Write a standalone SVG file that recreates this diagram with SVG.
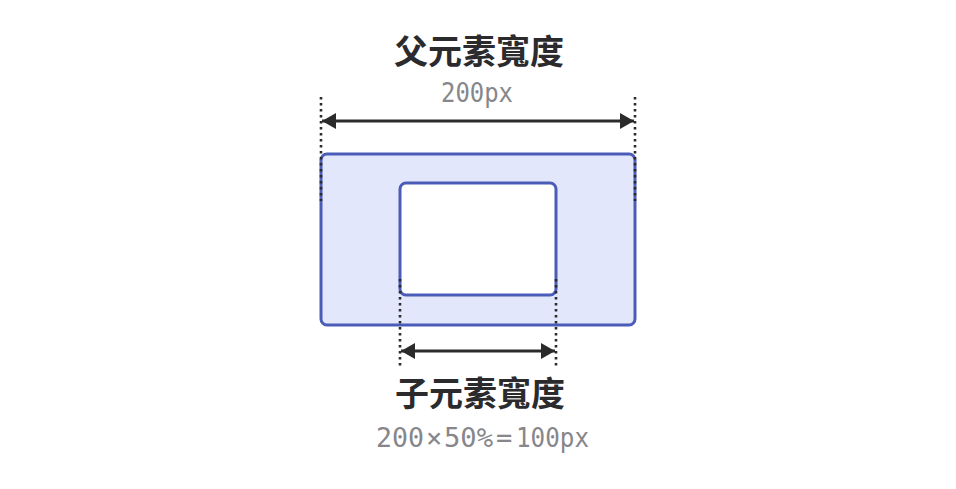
<svg xmlns="http://www.w3.org/2000/svg" width="956" height="489" viewBox="0 0 956 489">
<style>
.title{font-family:"Noto Sans CJK TC","Noto Sans CJK SC",sans-serif;font-weight:700;font-size:34px;fill:#2b2b2e;text-anchor:middle}
.mono{font-family:"DejaVu Sans Mono","Liberation Mono",monospace;font-size:27px;fill:#86868b}
.box{stroke:#4b5cb8;stroke-width:3}
.dim{stroke:#2b2b2b;stroke-width:3;fill:none}
.dot{stroke:#2b2b2b;stroke-width:2.6;stroke-dasharray:2.6 3.4;fill:none}
</style>
<defs>
<marker id="ah" viewBox="0 0 14 16" refX="14" refY="8" markerWidth="14" markerHeight="16" markerUnits="userSpaceOnUse" orient="auto-start-reverse">
<path d="M0,0 L14,8 L0,16 Z" fill="#2b2b2b"/>
</marker>
</defs>
<rect width="956" height="489" fill="#ffffff"/>
<g id="parent">
<rect class="box" x="321" y="154" width="314" height="171" rx="6" fill="#e3e7fc"/>
</g>
<g id="child">
<rect class="box" x="400" y="183" width="156" height="112" rx="6" fill="#ffffff"/>
</g>
<g id="connectors">
<line class="dot" x1="321" y1="97" x2="321" y2="201"/>
<line class="dot" x1="635" y1="97" x2="635" y2="201"/>
<line class="dot" x1="400" y1="279" x2="400" y2="369"/>
<line class="dot" x1="556" y1="279" x2="556" y2="369"/>
<line class="dim" x1="322" y1="121" x2="634" y2="121" marker-start="url(#ah)" marker-end="url(#ah)"/>
<line class="dim" x1="401" y1="351" x2="555" y2="351" marker-start="url(#ah)" marker-end="url(#ah)"/>
</g>
<g id="labels">
<text class="title" x="479" y="64">父元素寬度</text>
<text class="mono" x="441" y="102" textLength="72" lengthAdjust="spacingAndGlyphs">200px</text>
<text class="title" x="480" y="406">子元素寬度</text>
<text class="mono" y="447"><tspan x="376" textLength="48" lengthAdjust="spacingAndGlyphs">200</tspan><tspan x="426">×</tspan><tspan x="444" textLength="49" lengthAdjust="spacingAndGlyphs">50%</tspan><tspan x="496">=</tspan><tspan x="516" textLength="73" lengthAdjust="spacingAndGlyphs">100px</tspan></text>
</g>
</svg>
